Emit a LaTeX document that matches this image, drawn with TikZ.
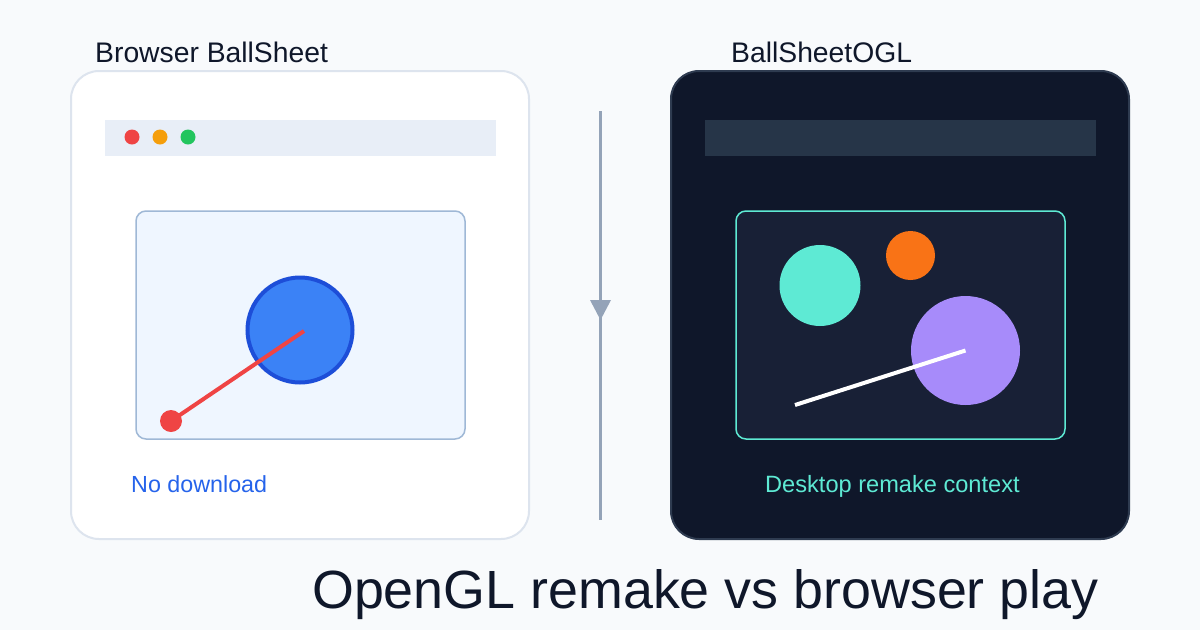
\documentclass[tikz,border=0pt]{standalone}
\usepackage{fontspec}
\setmainfont{Liberation Sans}
\begin{document}
\begin{tikzpicture}[x=1pt,y=-1pt,
  lbl/.style={inner sep=0pt,anchor=base west},
  panel/.style={rounded corners=28pt,line width=2pt},
  pane/.style={rounded corners=10pt,line width=1.5pt},
  dot/.style={circle,inner sep=0pt,minimum size=15pt}]
\definecolor{bg}{HTML}{F8FAFC}
\definecolor{ink}{HTML}{0F172A}
\definecolor{lightedge}{HTML}{DDE4EE}
\definecolor{barlight}{HTML}{E8EEF7}
\definecolor{panelight}{HTML}{EFF6FF}
\definecolor{paneedge}{HTML}{9FB8D6}
\definecolor{cuered}{HTML}{EF4444}
\definecolor{amber}{HTML}{F59E0B}
\definecolor{okgreen}{HTML}{22C55E}
\definecolor{ballblue}{HTML}{3B82F6}
\definecolor{balledge}{HTML}{1D4ED8}
\definecolor{linkblue}{HTML}{2563EB}
\definecolor{divider}{HTML}{94A3B8}
\definecolor{darkfill}{HTML}{0F172A}
\definecolor{darkedge}{HTML}{2E3B50}
\definecolor{bardark}{HTML}{263548}
\definecolor{panedark}{HTML}{182036}
\definecolor{teal}{HTML}{5EEAD4}
\definecolor{orange}{HTML}{F97316}
\definecolor{violet}{HTML}{A78BFA}

% canvas
\path[use as bounding box,fill=bg] (0,0) rectangle (1200,630);

% ---- browser version ----
\node[lbl,text=ink,font=\fontsize{28.3}{32}\selectfont] (ltitle) at (95,62) {Browser BallSheet};
\draw[panel,fill=white,draw=lightedge] (71,71) rectangle (529,539);
\fill[barlight] (105,120) rectangle (496,156);
\node[dot,fill=cuered] (d1) at (132,137) {};
\node[dot,fill=amber] (d2) at (160,137) {};
\node[dot,fill=okgreen] (d3) at (188,137) {};
\draw[pane,fill=panelight,draw=paneedge] (136,211) rectangle (465,439);
\node[circle,inner sep=0pt,minimum size=105pt,fill=ballblue,draw=balledge,line width=4pt] (cueball) at (300,330) {};
\coordinate (cueaim) at (304,331);
\node[circle,inner sep=0pt,minimum size=22pt,fill=cuered] (cuetip) at (171,421) {};
\draw[cuered,line width=4pt] (cuetip.center) -- (cueaim);
\node[lbl,text=linkblue,font=\fontsize{23.3}{26}\selectfont] (lnote) at (131,492) {No download};

% ---- divider ----
\coordinate (divtop) at (600,111);
\coordinate (divbot) at (600,520);
\draw[divider,line width=3pt] (divtop) -- (divbot);
\fill[divider] (590,300) -- (611,300) -- (600.5,320) -- cycle;

% ---- desktop version ----
\node[lbl,text=ink,font=\fontsize{28.3}{32}\selectfont] (rtitle) at (731,62) {BallSheetOGL};
\draw[panel,fill=darkfill,draw=darkedge] (671,71) rectangle (1129,539);
\fill[bardark] (705,120) rectangle (1096,156);
\draw[pane,fill=panedark,draw=teal] (736,211) rectangle (1065,439);
\node[circle,inner sep=0pt,minimum size=81pt,fill=teal] (tball) at (820,285.5) {};
\node[circle,inner sep=0pt,minimum size=49pt,fill=orange] (oball) at (910.5,255.5) {};
\node[circle,inner sep=0pt,minimum size=109pt,fill=violet] (vball) at (965.5,350.5) {};
\coordinate (stickend) at (795,405);
\draw[white,line width=4pt] (stickend) -- (vball.center);
\node[lbl,text=teal,font=\fontsize{23.6}{26}\selectfont] (rnote) at (765,492) {Desktop remake context};

% ---- caption ----
\node[lbl,text=ink,font=\fontsize{53.8}{60}\selectfont] (caption) at (312,608) {OpenGL remake vs browser play};
\end{tikzpicture}
\end{document}
